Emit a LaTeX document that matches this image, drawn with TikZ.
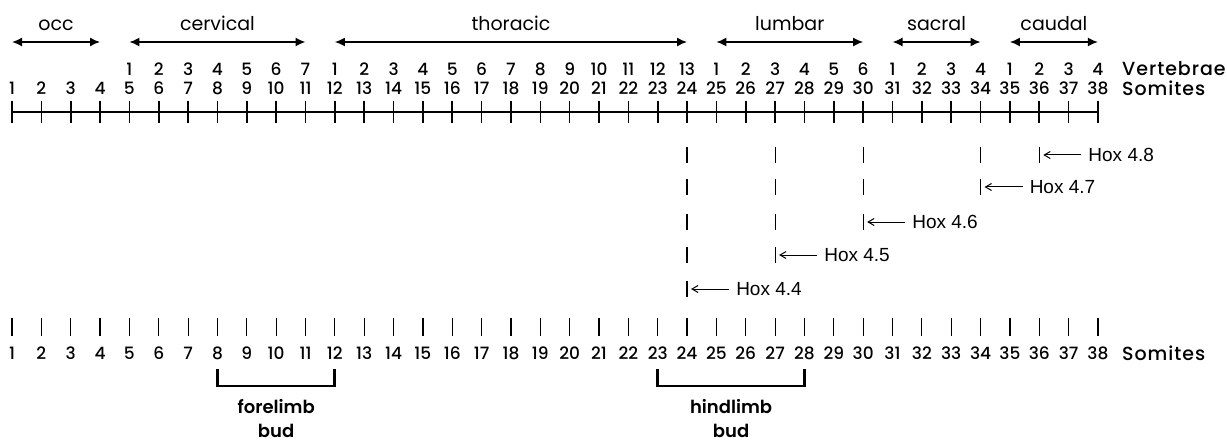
\documentclass[tikz,border=0pt]{standalone}
\usepackage{fontspec}
\setmainfont{Poppins}
\newfontfamily\hoxfont{Liberation Sans}
\IfFontExistsTF{Poppins Medium}
  {\newfontfamily\medfont{Poppins Medium}
   \newfontfamily\headfont[LetterSpace=5]{Poppins Medium}}
  {\newfontfamily\medfont{Poppins}
   \newfontfamily\headfont[LetterSpace=5]{Poppins}}
\IfFontExistsTF{Poppins SemiBold}
  {\newfontfamily\limbfont{Poppins SemiBold}}
  {\newfontfamily\limbfont{Poppins}}
\usetikzlibrary{arrows.meta,calc}

\tikzset{
  num/.style={inner sep=0pt, font=\medfont\fontsize{17}{17}\selectfont},
  region/.style={inner sep=0pt, font=\fontsize{19}{19}\selectfont},
  rowname/.style={inner sep=0pt, anchor=west, font=\headfont\fontsize{19}{19}\selectfont},
  span/.style={{Latex[length=10pt,width=9pt]}-{Latex[length=10pt,width=9pt]}, line width=1.6pt},
  axis/.style={line width=1.8pt},
  tick/.style={line width=1.6pt},
  hoxmark/.style={line width=1.2pt},
  hoxlabel/.style={inner sep=0pt, anchor=west, font=\hoxfont\fontsize{19}{19}\selectfont},
  hoxarrow/.style={-{Straight Barb[length=6pt,width=7pt]}, line width=1pt},
  bracket/.style={line width=2.8pt, line cap=rect},
  limb/.style={inner sep=0pt, anchor=base, font=\limbfont\fontsize{18}{18}\selectfont}
}

\begin{document}
\begin{tikzpicture}[x=1pt,y=-1pt]
\useasboundingbox[fill=white] (0,0) rectangle (1227,441);

% somite scale, top and bottom
\foreach \i in {1,...,38} {
  \pgfmathsetmacro\xx{12+29.35*(\i-1)}
  \coordinate (s\i) at (\xx,112);
  \coordinate (a\i) at (\xx,42);
  \coordinate (b\i) at (\xx,327);
  \coordinate (l\i) at (\xx,370);
  \draw[tick] (s\i) ++(0,-11) -- ++(0,22);
  \node[num] (top\i) at (\xx,88) {\i};
  \draw[hoxmark] (b\i) ++(0,-9) -- ++(0,18);
  \node[num] (bot\i) at (\xx,353) {\i};
}
\draw[axis] (s1) -- (s38);

% vertebrae numbers
\foreach \v [count=\k from 5] in {1,2,3,4,5,6,7,1,2,3,4,5,6,7,8,9,10,11,12,13,1,2,3,4,5,6,1,2,3,4,1,2,3,4}
  \node[num] (vert\k) at (top\k |- 0,69) {\v};

\node[rowname] (vertebrae) at (1122,69) {Vertebrae};
\node[rowname] (somites) at (1122,88) {Somites};
\node[rowname] (somites2) at (1122,353) {Somites};

% regions
\foreach \p/\q/\name in {1/4/occ, 5/11/cervical, 12/24/thoracic, 25/30/lumbar, 31/34/sacral, 35/38/caudal} {
  \draw[span] (a\p) -- (a\q);
  \path (a\p) -- (a\q) node[midway, region, above=11pt] (reg\p) {\name};
}

% Hox expression
\foreach \c/\rows in {24/{155,187,222,255,289}, 27/{155,187,222,255}, 30/{155,187,222}, 34/{155,187}, 36/{155}} {
  \foreach \yy in \rows
    \draw[hoxmark] (s\c |- 0,\yy) ++(0,-8) -- ++(0,16);
}
\foreach \c/\n/\yy in {36/8/155, 34/7/187, 30/6/222, 27/5/255, 24/4/289} {
  \coordinate (m\n) at ([xshift=4pt]s\c |- 0,\yy);
  \node[hoxlabel] (hox\n) at ([xshift=49pt]s\c |- 0,\yy) {Hox 4.\n};
  \draw[hoxarrow] ([xshift=-7pt]hox\n.west) -- (m\n);
}

% limb buds
\draw[bracket] (l8) -- ++(0,16) -| (l12);
\draw[bracket] (l23) -- ++(0,16) -| (l28);
\node[limb] (forelimb) at ($ (l8)!0.5!(l12) + (0,43) $) {forelimb};
\node[limb] (forebud) at ($ (l8)!0.5!(l12) + (0,67) $) {bud};
\node[limb] (hindlimb) at ($ (l23)!0.5!(l28) + (0,43) $) {hindlimb};
\node[limb] (hindbud) at ($ (l23)!0.5!(l28) + (0,67) $) {bud};

\end{tikzpicture}
\end{document}
